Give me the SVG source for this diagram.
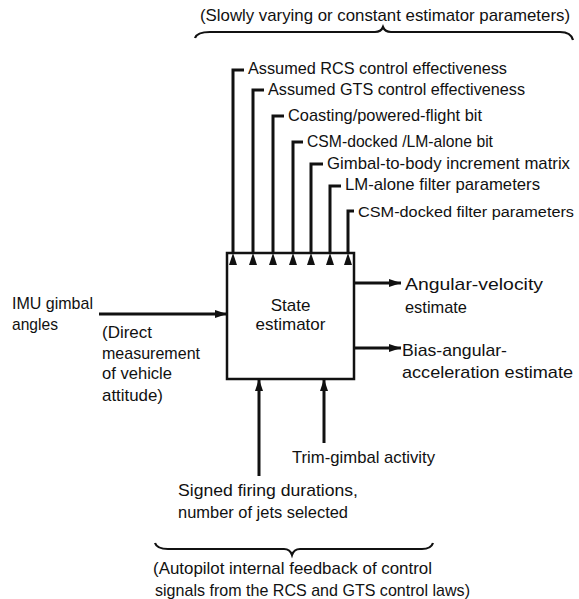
<svg xmlns="http://www.w3.org/2000/svg" width="579" height="599" viewBox="0 0 579 599">
<style>
text{font-family:"Liberation Sans","DejaVu Sans",sans-serif;font-size:17px;fill:#111}
.ln{stroke:#111;stroke-width:3;fill:none}
.br{stroke:#111;stroke-width:2.2;fill:none}
.box{stroke:#111;stroke-width:2.5;fill:#fff}
</style>
<defs>
<marker id="ah" viewBox="0 0 12 8" refX="12" refY="4" markerWidth="12" markerHeight="8" markerUnits="userSpaceOnUse" orient="auto">
<path d="M0,0 L12,4 L0,8 z" fill="#111"/>
</marker>
</defs>
<g id="title-top">
<text x="200" y="21" textLength="370" lengthAdjust="spacingAndGlyphs">(Slowly varying or constant estimator parameters)</text>
<path class="br" d="M195,38 Q197,32 210,32 L375,32 Q381,32 383,27 Q385,32 391,32 L560,32 Q571,32 573,40"/>
</g>
<g id="state-estimator">
<rect class="box" x="227" y="253" width="127" height="126"/>
<text x="290.5" y="311" text-anchor="middle">State</text>
<text x="290.5" y="330" text-anchor="middle">estimator</text>
</g>
<g id="connectors">
<path class="ln" d="M233,253 V70 H244" marker-start="url(#ah)"/>
<path class="ln" d="M253,253 V90 H264" marker-start="url(#ah)"/>
<path class="ln" d="M273,253 V116 H284" marker-start="url(#ah)"/>
<path class="ln" d="M293,253 V142 H303" marker-start="url(#ah)"/>
<path class="ln" d="M311,253 V164 H323" marker-start="url(#ah)"/>
<path class="ln" d="M330,253 V186 H341" marker-start="url(#ah)"/>
<path class="ln" d="M348,253 V211 H354" marker-start="url(#ah)"/>
<path class="ln" d="M99,314 H227" marker-end="url(#ah)"/>
<path class="ln" d="M354,283 H401" marker-end="url(#ah)"/>
<path class="ln" d="M354,348 H401" marker-end="url(#ah)"/>
<path class="ln" d="M259,476 V379" marker-end="url(#ah)"/>
<path class="ln" d="M324,443 V379" marker-end="url(#ah)"/>
</g>
<g id="top-inputs">
<text x="248" y="74" textLength="259" lengthAdjust="spacingAndGlyphs">Assumed RCS control effectiveness</text>
<text x="268" y="95" textLength="257" lengthAdjust="spacingAndGlyphs">Assumed GTS control effectiveness</text>
<text x="288" y="121" textLength="194" lengthAdjust="spacingAndGlyphs">Coasting/powered-flight bit</text>
<text x="307" y="147" textLength="186" lengthAdjust="spacingAndGlyphs">CSM-docked /LM-alone bit</text>
<text x="327" y="169" textLength="243" lengthAdjust="spacingAndGlyphs">Gimbal-to-body increment matrix</text>
<text x="345" y="190" textLength="195" lengthAdjust="spacingAndGlyphs">LM-alone filter parameters</text>
<text x="358" y="217" style="font-size:15.5px" textLength="216" lengthAdjust="spacingAndGlyphs">CSM-docked filter parameters</text>
</g>
<g id="imu-input">
<text x="12" y="309" textLength="81" lengthAdjust="spacingAndGlyphs">IMU gimbal</text>
<text x="12" y="330" textLength="46" lengthAdjust="spacingAndGlyphs">angles</text>
<text x="102" y="338" textLength="50" lengthAdjust="spacingAndGlyphs">(Direct</text>
<text x="102" y="359" textLength="98" lengthAdjust="spacingAndGlyphs">measurement</text>
<text x="102" y="379" textLength="70" lengthAdjust="spacingAndGlyphs">of vehicle</text>
<text x="102" y="401" textLength="61" lengthAdjust="spacingAndGlyphs">attitude)</text>
</g>
<g id="outputs">
<text x="405" y="290" textLength="138" lengthAdjust="spacingAndGlyphs">Angular-velocity</text>
<text x="405" y="313" textLength="62" lengthAdjust="spacingAndGlyphs">estimate</text>
<text x="402" y="356" textLength="105" lengthAdjust="spacingAndGlyphs">Bias-angular-</text>
<text x="402" y="378" textLength="171" lengthAdjust="spacingAndGlyphs">acceleration estimate</text>
</g>
<g id="bottom-inputs">
<text x="292" y="463" textLength="143" lengthAdjust="spacingAndGlyphs">Trim-gimbal activity</text>
<text x="178" y="496" textLength="180" lengthAdjust="spacingAndGlyphs">Signed firing durations,</text>
<text x="178" y="518" textLength="170" lengthAdjust="spacingAndGlyphs">number of jets selected</text>
</g>
<g id="title-bottom">
<path class="br" d="M155,543 Q157,549 168,549 L284,549 Q290,549 292,555 Q294,549 300,549 L422,549 Q431,549 433,543"/>
<text x="153" y="574" textLength="279" lengthAdjust="spacingAndGlyphs">(Autopilot internal feedback of control</text>
<text x="155" y="596" textLength="315" lengthAdjust="spacingAndGlyphs">signals from the RCS and GTS control laws)</text>
</g>
</svg>
